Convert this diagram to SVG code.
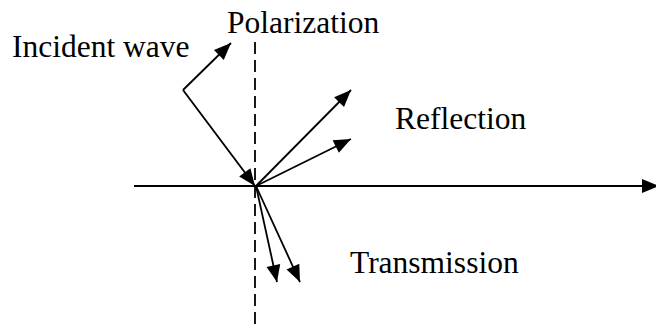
<svg xmlns="http://www.w3.org/2000/svg" width="656" height="328" viewBox="0 0 656 328">
  <style>
    text { font-family: 'Liberation Serif', 'Times New Roman', Times, serif; font-size: 31.5px; fill: #000; }
    .ln { stroke: #000; stroke-width: 1.8; fill: none; }
    .arr { marker-end: url(#ah); }
    .dash { stroke: #000; stroke-width: 1.8; stroke-dasharray: 12 6; fill: none; }
  </style>
  <defs>
    <marker id="ah" markerUnits="userSpaceOnUse" markerWidth="19" markerHeight="15" refX="17" refY="7" orient="auto" overflow="visible">
      <path d="M0,0 L17,7 L0,14 Z" fill="#000"/>
    </marker>
  </defs>
  <rect width="656" height="328" fill="#fff"/>
  <g id="connectors">
    <line id="polarization-axis" class="dash" x1="255" y1="42" x2="255" y2="328"/>
    <line id="surface" class="ln arr" x1="134" y1="186" x2="659" y2="186" stroke-width="2"/>
    <line id="incident-pol" class="ln arr" x1="183" y1="90" x2="231" y2="43"/>
    <line id="incident-dir" class="ln arr" x1="183" y1="90" x2="255" y2="186"/>
    <line id="reflect-1" class="ln arr" x1="256" y1="186" x2="351" y2="90"/>
    <line id="reflect-2" class="ln arr" x1="256" y1="186" x2="351" y2="139"/>
    <line id="transmit-1" class="ln arr" x1="256" y1="186" x2="277" y2="282"/>
    <line id="transmit-2" class="ln arr" x1="256" y1="186" x2="300" y2="282"/>
  </g>
  <g id="incident-wave"><text x="12" y="57" font-family="Liberation Serif, serif">Incident wave</text></g>
  <g id="polarization"><text x="227" y="33" font-family="Liberation Serif, serif">Polarization</text></g>
  <g id="reflection"><text x="395" y="129" font-family="Liberation Serif, serif">Reflection</text></g>
  <g id="transmission"><text x="350" y="273" font-family="Liberation Serif, serif">Transmission</text></g>
</svg>
